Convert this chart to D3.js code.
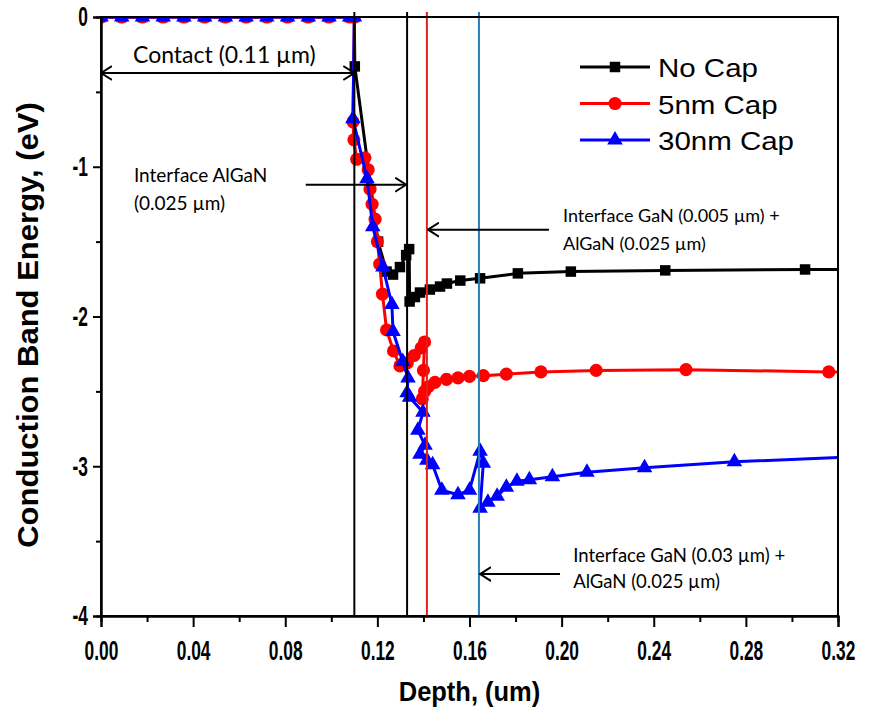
<!DOCTYPE html>
<html>
<head>
<meta charset="utf-8">
<script src="https://cdn.jsdelivr.net/npm/d3@7"></script>
<style>
  body { margin: 0; background: #fff; }
</style>
</head>
<body>
<div id="chart"></div>
<script>
// depth in um, energy in eV
const depthNoCap = [0, 0.009, 0.018, 0.027, 0.036, 0.045, 0.054, 0.063, 0.072, 0.081, 0.090, 0.099, 0.108,
  0.1100, 0.1102, 0.1203, 0.1240, 0.1268, 0.1298, 0.1325, 0.1338, 0.1340, 0.1363, 0.1385, 0.1428,
  0.1472, 0.1502, 0.1560, 0.1646, 0.1810, 0.2040, 0.2450, 0.3057, 0.3400];
const energyNoCap = [0, 0, 0, 0, 0, 0, 0, 0, 0, 0, 0, 0, 0,
  0, -0.33, -1.50, -1.70, -1.72, -1.67, -1.59, -1.55, -1.90, -1.87, -1.84, -1.82,
  -1.80, -1.78, -1.76, -1.745, -1.712, -1.70, -1.692, -1.686, -1.686];

const depth5nm = [0, 0.009, 0.018, 0.027, 0.036, 0.045, 0.054, 0.063, 0.072, 0.081, 0.090, 0.099, 0.108,
  0.1100, 0.1094, 0.1098, 0.1110, 0.1146, 0.1160, 0.1168, 0.1177, 0.1190, 0.1200, 0.1210, 0.1222, 0.1240,
  0.1270, 0.1298, 0.1330, 0.1360, 0.1390, 0.1405, 0.1400, 0.1395, 0.1405, 0.1420, 0.1450, 0.1500, 0.1550,
  0.1600, 0.1660, 0.1760, 0.1910, 0.2150, 0.2540, 0.3160, 0.3400];
const energy5nm = [0, 0, 0, 0, 0, 0, 0, 0, 0, 0, 0, 0, 0,
  0, -0.70, -0.82, -0.95, -0.94, -1.02, -1.15, -1.25, -1.35, -1.50, -1.65, -1.85, -2.09,
  -2.23, -2.33, -2.31, -2.26, -2.21, -2.17, -2.36, -2.55, -2.50, -2.47, -2.44, -2.42, -2.41,
  -2.40, -2.395, -2.385, -2.37, -2.36, -2.355, -2.37, -2.375];

const depth30nm = [0, 0.009, 0.018, 0.027, 0.036, 0.045, 0.054, 0.063, 0.072, 0.081, 0.090, 0.099, 0.108,
  0.1100, 0.1094, 0.1155, 0.1180, 0.1224, 0.1263, 0.1268, 0.1310, 0.1333, 0.1329, 0.1340, 0.1398, 0.1376,
  0.1407, 0.1385, 0.1415, 0.1440, 0.1480, 0.1550, 0.1600, 0.1646, 0.1660, 0.1646, 0.1680, 0.1720, 0.1760,
  0.1806, 0.1860, 0.1960, 0.2110, 0.2360, 0.2750, 0.3400];
const energy30nm = [0, 0, 0, 0, 0, 0, 0, 0, 0, 0, 0, 0, 0,
  0, -0.68, -1.08, -1.40, -1.67, -1.92, -2.10, -2.30, -2.41, -2.51, -2.54, -2.64, -2.76,
  -2.86, -2.92, -2.96, -2.99, -3.16, -3.19, -3.16, -2.90, -2.98, -3.28, -3.24, -3.20, -3.14,
  -3.10, -3.09, -3.07, -3.04, -3.01, -2.97, -2.93];

const seriesNames = ['No Cap', '5nm Cap', '30nm Cap'];
const xTicks = [0, 0.04, 0.08, 0.12, 0.16, 0.20, 0.24, 0.28, 0.32];
const xMinorTicks = [0.02, 0.06, 0.10, 0.14, 0.18, 0.22, 0.26, 0.30];
const yTicks = [0, -1, -2, -3, -4];
const yMinorTicks = [-0.5, -1.5, -2.5, -3.5];
// layer boundaries (um)
const boundaries = [0.110, 0.1329, 0.1415, 0.1641];

const width = 869;
const height = 717;
const margin = { top: 17, right: 31, bottom: 101, left: 101 };
const w = width - margin.left - margin.right;
const h = height - margin.top - margin.bottom;

const colors = ['#000000', '#ff0000', '#0000ff'];
const boundaryColors = ['#000000', '#000000', '#e0201b', '#2a7cb8'];
const symbols = [d3.symbolSquare, d3.symbolCircle, d3.symbolTriangle];
const symbolSizes = [110, 135, 105];

const x = d3.scaleLinear().domain([0, 0.32]).range([0, w]);
const y = d3.scaleLinear().domain([-4, 0]).range([h, 0]);

const svg = d3.select('#chart').append('svg')
  .attr('width', width)
  .attr('height', height)
  .style('background', '#fff');

const g = svg.append('g')
  .attr('transform', `translate(${margin.left},${margin.top})`);

// squeeze/widen text horizontally to the reference glyph proportions
function squeeze(sel, k) {
  sel.each(function () {
    const t = d3.select(this);
    const x0 = +t.attr('x') || 0;
    const prev = t.attr('transform') || '';
    t.attr('x', x0 / k).attr('transform', `${prev} scale(${k},1)`);
  });
}

g.append('clipPath').attr('id', 'plot-clip')
  .append('rect').attr('width', w).attr('height', h);

// series
const allSeries = [
  { name: seriesNames[0], xs: depthNoCap, ys: energyNoCap },
  { name: seriesNames[1], xs: depth5nm, ys: energy5nm },
  { name: seriesNames[2], xs: depth30nm, ys: energy30nm },
];

const line = d3.line().x((d) => x(d[0])).y((d) => y(d[1]));
const plot = g.append('g').attr('clip-path', 'url(#plot-clip)');

allSeries.forEach((s, i) => {
  const pts = s.xs.map((v, j) => [v, s.ys[j]]);
  plot.append('path')
    .datum(pts)
    .attr('fill', 'none')
    .attr('stroke', colors[i])
    .attr('stroke-width', 3)
    .attr('stroke-linejoin', 'round')
    .attr('d', line);
  plot.selectAll(null)
    .data(pts)
    .enter().append('path')
    .attr('transform', (d) => `translate(${x(d[0])},${y(d[1])})`)
    .attr('d', d3.symbol().type(symbols[i]).size(symbolSizes[i]))
    .attr('fill', colors[i]);
});

// layer boundary lines
g.selectAll('.boundary')
  .data(boundaries)
  .enter().append('line')
  .attr('class', 'boundary')
  .attr('x1', (d) => x(d))
  .attr('x2', (d) => x(d))
  .attr('y1', -5)
  .attr('y2', h)
  .attr('stroke', (d, i) => boundaryColors[i])
  .attr('stroke-width', 2);

// frame
g.append('rect')
  .attr('width', w)
  .attr('height', h)
  .attr('fill', 'none')
  .attr('stroke', '#000')
  .attr('stroke-width', 2);

// axes
const tickFont = (sel) => sel
  .attr('font-family', 'Liberation Sans, Arial, sans-serif')
  .attr('font-weight', 'bold')
  .attr('font-size', '28px')
  .attr('fill', '#000');

const xAxis = g.append('g')
  .attr('transform', `translate(0,${h})`)
  .call(d3.axisBottom(x).tickValues(xTicks).tickFormat(d3.format('.2f')).tickSize(11).tickPadding(13));
g.append('g')
  .attr('transform', `translate(0,${h})`)
  .call(d3.axisBottom(x).tickValues(xMinorTicks).tickFormat('').tickSize(6));

const yAxis = g.append('g')
  .call(d3.axisLeft(y).tickValues(yTicks)
    .tickFormat((d) => (d === 0 ? '0' : `-${Math.abs(d)}`)).tickSize(8).tickPadding(5));
g.append('g')
  .call(d3.axisLeft(y).tickValues(yMinorTicks).tickFormat('').tickSize(5));

g.selectAll('.domain').attr('stroke-width', 2);
g.selectAll('.tick line').attr('stroke-width', 2);
xAxis.selectAll('text').call(tickFont);
yAxis.selectAll('text').call(tickFont);
squeeze(xAxis.selectAll('text'), 0.62);
squeeze(yAxis.selectAll('text'), 0.62);

// axis titles
const xTitle = svg.append('text')
  .attr('x', margin.left + w / 2)
  .attr('y', 701)
  .attr('text-anchor', 'middle')
  .attr('font-family', 'Liberation Sans, Arial, sans-serif')
  .attr('font-weight', 'bold')
  .attr('font-size', '28px')
  .text('Depth, (um)');
squeeze(xTitle, 0.91);

const yTitle = svg.append('text')
  .attr('transform', `translate(38,${325}) rotate(-90)`)
  .attr('text-anchor', 'middle')
  .attr('font-family', 'Liberation Sans, Arial, sans-serif')
  .attr('font-weight', 'bold')
  .attr('font-size', '29px')
  .text('Conduction Band Energy, (eV)');
squeeze(yTitle, 1.07);

// annotations
svg.append('defs').append('marker')
  .attr('id', 'chevron')
  .attr('viewBox', '0 0 12 16')
  .attr('refX', 11)
  .attr('refY', 8)
  .attr('markerWidth', 12)
  .attr('markerHeight', 16)
  .attr('markerUnits', 'userSpaceOnUse')
  .attr('orient', 'auto-start-reverse')
  .append('path')
  .attr('d', 'M0,1 L11,8 L0,15')
  .attr('fill', 'none')
  .attr('stroke', '#000')
  .attr('stroke-width', 2);

const arrows = [
  { x1: 0, x2: 0.110, y: -0.374, both: true },
  { x1: 0.0889, x2: 0.1325, y: -1.12, both: false },
  { x1: 0.1945, x2: 0.1420, y: -1.42, both: false },
  { x1: 0.1993, x2: 0.1646, y: -3.72, both: false },
];
g.selectAll('.arrow')
  .data(arrows)
  .enter().append('line')
  .attr('class', 'arrow')
  .attr('x1', (d) => x(d.x1))
  .attr('x2', (d) => x(d.x2))
  .attr('y1', (d) => y(d.y))
  .attr('y2', (d) => y(d.y))
  .attr('stroke', '#000')
  .attr('stroke-width', 2)
  .attr('marker-end', 'url(#chevron)')
  .attr('marker-start', (d) => (d.both ? 'url(#chevron)' : null));

const notes = [
  { x: 0.0139, y: -0.307, text: 'Contact (0.11 \u00b5m)', size: 23 },
  { x: 0.0143, y: -1.10, text: 'Interface AlGaN', size: 19 },
  { x: 0.0143, y: -1.29, text: '(0.025 \u00b5m)', size: 19 },
  { x: 0.2006, y: -1.37, text: 'Interface GaN (0.005 \u00b5m) +', size: 18 },
  { x: 0.2006, y: -1.556, text: 'AlGaN (0.025 \u00b5m)', size: 18 },
  { x: 0.2050, y: -3.64, text: 'Interface GaN (0.03 \u00b5m) +', size: 18.5 },
  { x: 0.2050, y: -3.81, text: 'AlGaN (0.025 \u00b5m)', size: 18.5 },
];
g.selectAll('.note')
  .data(notes)
  .enter().append('text')
  .attr('class', 'note')
  .attr('x', (d) => x(d.x))
  .attr('y', (d) => y(d.y))
  .attr('font-family', 'Lato, Open Sans, sans-serif')
  .attr('font-size', (d) => `${d.size}px`)
  .attr('fill', '#000')
  .text((d) => d.text);

// legend
const legend = svg.append('g').attr('transform', 'translate(580,67)');
seriesNames.forEach((name, i) => {
  const row = legend.append('g').attr('transform', `translate(0,${i * 36.5})`);
  row.append('line')
    .attr('x1', 0).attr('x2', 70)
    .attr('stroke', colors[i])
    .attr('stroke-width', 3);
  row.append('path')
    .attr('transform', 'translate(35,0)')
    .attr('d', d3.symbol().type(symbols[i]).size(symbolSizes[i]))
    .attr('fill', colors[i]);
  const t = row.append('text')
    .attr('x', 78)
    .attr('y', 10)
    .attr('font-family', 'Liberation Sans, Arial, sans-serif')
    .attr('font-size', '25px')
    .text(name);
  squeeze(t, 1.18);
});
</script>
</body>
</html>
